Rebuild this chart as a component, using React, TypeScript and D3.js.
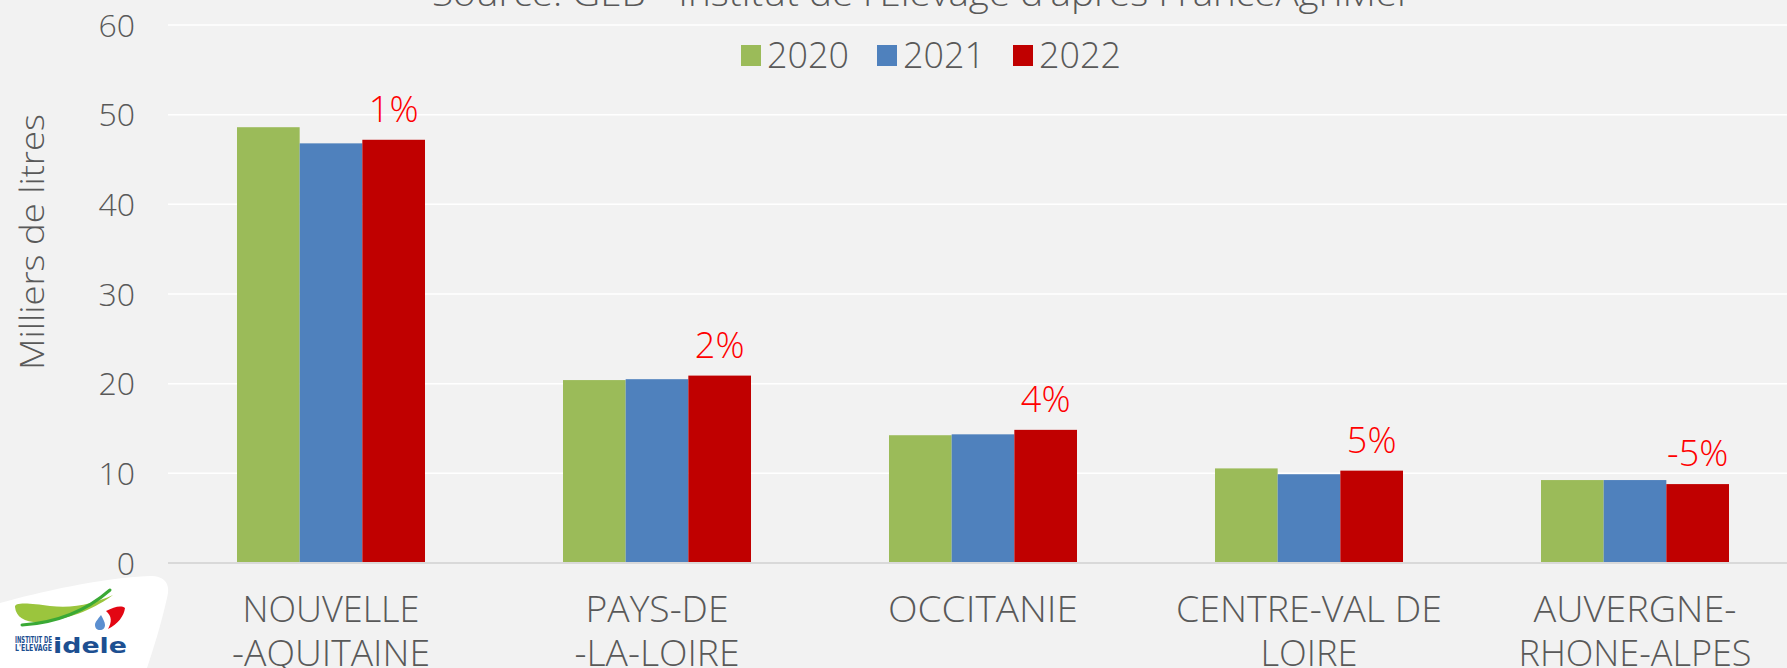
import React from "react";
import * as d3 from "d3";

const categories = ["NOUVELLE -AQUITAINE", "PAYS-DE -LA-LOIRE", "OCCITANIE", "CENTRE-VAL DE LOIRE", "AUVERGNE-RHONE-ALPES"];
const categoryLines = [
  ["NOUVELLE", "-AQUITAINE"],
  ["PAYS-DE", "-LA-LOIRE"],
  ["OCCITANIE"],
  ["CENTRE-VAL DE", "LOIRE"],
  ["AUVERGNE-", "RHONE-ALPES"],
];
const categoryLineWidths = [
  [177, 198],
  [143, 165],
  [190],
  [266, 97],
  [203, 233],
];
const years = ["2020", "2021", "2022"];
const values2020 = [48.6, 20.4, 14.25, 10.55, 9.25];
const values2021 = [46.8, 20.5, 14.35, 9.9, 9.25];
const values2022 = [47.2, 20.9, 14.85, 10.3, 8.8];
const changeLabels = ["1%", "2%", "4%", "5%", "-5%"];
const yTicks = [0, 10, 20, 30, 40, 50, 60];
const colors = ["#9BBB59", "#4F81BD", "#C00000"];
const titleText = "Source: GEB - Institut de l'Elevage d'après FranceAgriMer";
const yAxisTitle = "Milliers de litres";

const W = 1787;
const H = 668;
const FONT = "'Open Sans', Lato, 'DejaVu Sans', sans-serif";
const TXT = "#595959";

export default function App() {
  const series = [values2020, values2021, values2022];
  const x = d3
    .scaleBand<string>()
    .domain(categories)
    .range([168, 1798])
    .paddingInner(0.4233)
    .paddingOuter(0.21165);
  const xs = d3.scaleBand<string>().domain(years).range([0, x.bandwidth()]).padding(0);
  const y = d3.scaleLinear().domain([0, 60]).range([563, 25]);

  return (
    <svg
      width={W}
      height={H}
      style={{ position: "absolute", left: 0, top: 0, display: "block" }}
      fontFamily={FONT}
    >
      <rect x={0} y={0} width={W} height={H} fill="#F2F2F2" />

      {/* title (cut off at top) */}
      <text
        x={432}
        y={6}
        fontSize={35}
        fontWeight={300}
        fill={TXT}
        textLength={980}
        lengthAdjust="spacingAndGlyphs"
      >
        {titleText}
      </text>

      {/* gridlines */}
      {yTicks.slice(1).map((t) => (
        <line key={t} x1={168} x2={W} y1={y(t)} y2={y(t)} stroke="#FFFFFF" strokeWidth={1.5} />
      ))}

      {/* y tick labels */}
      {yTicks.map((t) => (
        <text
          key={t}
          x={135}
          y={y(t)}
          dy="0.36em"
          textAnchor="end"
          fontSize={32}
          fontWeight={300}
          fill={TXT}
        >
          {t}
        </text>
      ))}

      {/* y axis title */}
      <text
        transform={`translate(44,242) rotate(-90)`}
        textAnchor="middle"
        fontSize={33}
        fontWeight={300}
        fill={TXT}
        textLength={256}
        lengthAdjust="spacingAndGlyphs"
      >
        {yAxisTitle}
      </text>

      {/* bars */}
      {categories.map((c, i) => (
        <g key={c} transform={`translate(${x(c)},0)`}>
          {years.map((yr, j) => (
            <rect
              key={yr}
              x={xs(yr)}
              y={y(series[j][i])}
              width={xs.bandwidth()}
              height={y(0) - y(series[j][i])}
              fill={colors[j]}
            />
          ))}
          <text
            x={(xs("2022") as number) + xs.bandwidth() / 2}
            y={y(values2022[i]) - 18}
            textAnchor="middle"
            fontSize={36}
            fontWeight={300}
            fill="#FF0000"
          >
            {changeLabels[i]}
          </text>
        </g>
      ))}

      {/* x axis baseline */}
      <line x1={168} x2={W} y1={y(0)} y2={y(0)} stroke="#D9D9D9" strokeWidth={2} />

      {/* category labels */}
      {categories.map((c, i) =>
        categoryLines[i].map((ln, k) => (
          <text
            key={c + k}
            x={(x(c) as number) + x.bandwidth() / 2}
            y={622 + k * 44}
            textAnchor="middle"
            fontSize={36}
            fontWeight={300}
            fill={TXT}
            textLength={categoryLineWidths[i][k]}
            lengthAdjust="spacingAndGlyphs"
          >
            {ln}
          </text>
        ))
      )}

      {/* legend */}
      {years.map((yr, j) => {
        const lx = 741 + j * 136;
        return (
          <g key={yr}>
            <rect x={lx} y={45} width={20} height={21} fill={colors[j]} />
            <text
              x={lx + 26}
              y={68}
              fontSize={36}
              fontWeight={300}
              fill={TXT}
              textLength={82}
              lengthAdjust="spacingAndGlyphs"
            >
              {yr}
            </text>
          </g>
        );
      })}

      {/* logo */}
      <g>
        <path
          d="M0,603 C40,592 100,578 150,576 C165,576 171,584 167,598 C161,625 153,650 147,668 L0,668 Z"
          fill="#FFFFFF"
        />
        <path
          d="M15,607 C14,602 30,603 50,606 C75,609 95,603 113,595 C97,607 72,619 42,622 C26,623 16,618 15,607 Z"
          fill="#9BC53D"
        />
        <path d="M22,625 C55,623 86,611 110,590" fill="none" stroke="#3AA935" strokeWidth={3} strokeLinecap="round" />
        <path
          d="M106,611 C114,607 121,605 125,608 C124,616 118,624 108,629 C112,622 112,616 106,611 Z"
          fill="#E30613"
        />
        <path d="M101,615 C98,619 95,622 95,625 C95,628 97,630 100,630 C103,630 105,628 105,625 C105,622 103,619 101,615 Z" fill="#5B8FD0" />
        <text x={15} y={643} fontSize={8.5} fontWeight={700} fill="#1D4F91" fontFamily="'DejaVu Sans', sans-serif" textLength={37} lengthAdjust="spacingAndGlyphs">
          INSTITUT DE
        </text>
        <text x={15} y={651} fontSize={8.5} fontWeight={700} fill="#1D4F91" fontFamily="'DejaVu Sans', sans-serif" textLength={37} lengthAdjust="spacingAndGlyphs">
          L'ELEVAGE
        </text>
        <text x={53} y={653} fontSize={22} fontWeight={700} fill="#1D4F91" fontFamily="'DejaVu Sans', sans-serif" textLength={74} lengthAdjust="spacingAndGlyphs">
          idele
        </text>
      </g>
    </svg>
  );
}
